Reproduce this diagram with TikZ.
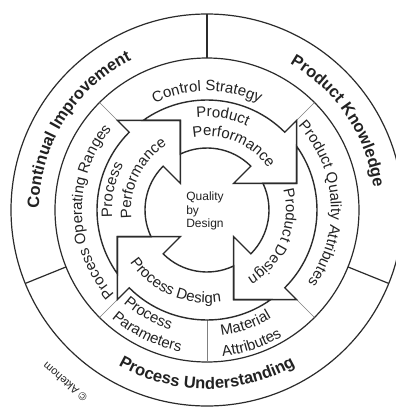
\documentclass[tikz,border=0pt]{standalone}
\usepackage{fontspec}
\setmainfont{Liberation Sans}
\usetikzlibrary{decorations.text}

\definecolor{ink}{HTML}{222222}
\definecolor{rule}{HTML}{2B2B2B}
\definecolor{hair}{HTML}{808080}

\tikzset{
  ringline/.style={draw=rule, line width=1.2pt},
  cycleline/.style={draw=rule, line width=1.4pt, line join=miter},
  hairline/.style={draw=hair, line width=0.7pt},
}

% text set along a circular arc centred on the origin:
% #1 radius, #2 start angle, #3 end angle, #4 font, #5 text
\newcommand\arclabel[5]{%
  \path[decorate, decoration={text along path, text align=center,
      text={|#4\color{ink}|#5}}]
    (#2:#1pt) arc[start angle=#2, end angle=#3, radius=#1pt];}

\newcommand\ringfont{\fontsize{15}{18}\selectfont}
\newcommand\bandfont{\bfseries\fontsize{16.5}{20}\selectfont}

% one block arrow of the cycle; #1 is the angle of the base of its head
\newcommand\cyclearrow[1]{%
  \draw[cycleline]
    ({#1+80.4}:110pt) arc[start angle={#1+80.4}, end angle={#1}, radius=110pt]
    -- (#1:126.8pt) -- ({#1-28.5}:93.5pt) -- (#1:37.6pt) -- (#1:62pt)
    arc[start angle={#1}, end angle={#1+70.4}, radius=62pt]
    -- ({#1+61.5}:93.5pt) -- cycle;}

\begin{document}
\begin{tikzpicture}[x=1pt, y=1pt]
  \useasboundingbox (-207,-198) rectangle (189,210);
  \clip (-207,-198) rectangle (189,210);
  \fill[white] (-207,-198) rectangle (189,210);

  % outer band and its three sectors
  \draw[ringline] (0,0) circle[radius=196pt];
  \draw[ringline] (0,0) circle[radius=152pt];
  \foreach \a in {90,202,338} \draw[ringline] (\a:152pt) -- (\a:196pt);

  % dividers of the middle ring
  \foreach \a in {45,135,225,315} \draw[hairline] (\a:126.8pt) -- (\a:152pt);
  \draw[hairline] (270:110pt) -- (270:152pt);

  % the four arrows of the cycle
  \foreach \b in {45,-45,-135,135} \cyclearrow{\b};

  % outer band labels
  \arclabel{168}{198}{98}{\bandfont}{Continual Improvement}
  \arclabel{168}{84}{-16}{\bandfont}{Product Knowledge}
  \arclabel{179}{215}{325}{\bandfont}{Process Understanding}

  % middle ring labels
  \arclabel{119}{150}{30}{\ringfont}{Control Strategy}
  \arclabel{124}{53.5}{-46.5}{\ringfont}{Product Quality Attributes}
  \arclabel{125}{231}{131}{\ringfont}{Process Operating Ranges}
  \arclabel{125}{215}{266}{\ringfont}{Process}
  \arclabel{144}{214}{274}{\ringfont}{Parameters}
  \arclabel{126}{263.7}{313.7}{\ringfont}{Material}
  \arclabel{147}{258.4}{318.4}{\ringfont}{Attributes}

  % arrow labels
  \arclabel{93}{130}{31}{\ringfont}{Product}
  \arclabel{74}{117}{18}{\ringfont}{Performance}
  \arclabel{79}{33}{-77}{\ringfont}{Product Design}
  \arclabel{93}{191.5}{301.5}{\ringfont}{Process Design}
  \arclabel{95}{218}{118}{\ringfont}{Process}
  \arclabel{76}{204}{104}{\ringfont}{Performance}

  % centre
  \node[font=\fontsize{12}{13.5}\selectfont, align=left, text=ink] (qbd) at (-2,-1) {Quality\\by\\Design};

  % credit
  \node[font=\fontsize{11}{13}\selectfont, rotate=139, text=ink] (credit) at (-142,-172) {© Aktehom};
\end{tikzpicture}
\end{document}
